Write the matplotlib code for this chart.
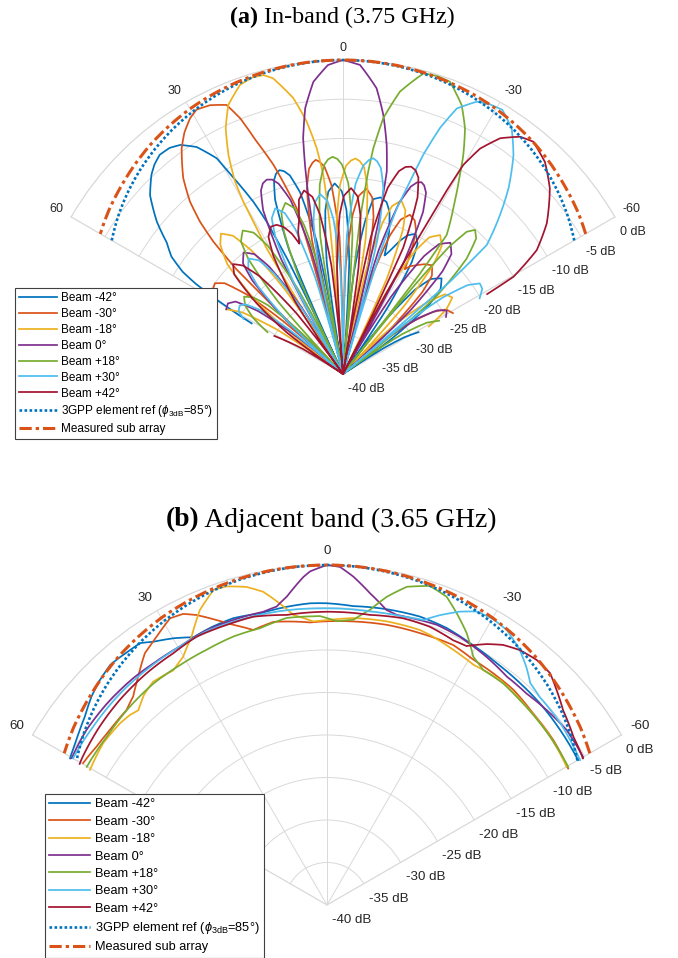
import numpy as np
import matplotlib
matplotlib.use("Agg")
import matplotlib.pyplot as plt
from matplotlib.transforms import ScaledTranslation

plt.rcParams['font.family'] = ['Liberation Sans', 'DejaVu Sans']
plt.rcParams['mathtext.fontset'] = 'custom'
plt.rcParams['mathtext.rm'] = 'Liberation Sans'
plt.rcParams['mathtext.it'] = 'Liberation Sans:italic'

# ---------------- labels / ticks ----------------
beam_labels = ['Beam -42°', 'Beam -30°', 'Beam -18°', 'Beam 0°', 'Beam +18°', 'Beam +30°', 'Beam +42°']
ref_label = '3GPP element ref ($\\phi_{\\mathrm{3dB}}$=85°)'
sub_label = 'Measured sub array'
theta_ticks = [-60, -30, 0, 30, 60]
r_ticks = [-40, -35, -30, -25, -20, -15, -10, -5, 0]
title_a = ('(a)', ' In-band (3.75 GHz)')
title_b = ('(b)', ' Adjacent band (3.65 GHz)')

beam_colors = ['#0072BD', '#D95319', '#EDB120', '#7E2F8E', '#77AC30', '#4DBEEE', '#A2142F']
ref_color = '#0072BD'
sub_color = '#D95319'

# ---------------- reference curves (both panels) ----------------
ref_theta = [-60, -55, -50, -45, -40, -35, -30, -25, -20, -15, -10, -5, 0,
             5, 10, 15, 20, 25, 30, 35, 40, 45, 50, 55, 60]
ref_3gpp_db = [-5.98, -5.02, -4.15, -3.36, -2.66, -2.03, -1.49, -1.04, -0.66, -0.37, -0.17, -0.04, 0,
               -0.04, -0.17, -0.37, -0.66, -1.04, -1.49, -2.03, -2.66, -3.36, -4.15, -5.02, -5.98]
sub_array_db = [-4.3, -3.6, -3.0, -2.4, -1.85, -1.4, -1.0, -0.7, -0.45, -0.25, -0.1, -0.02, 0,
                -0.02, -0.1, -0.25, -0.45, -0.7, -1.0, -1.4, -1.85, -2.4, -3.0, -3.6, -4.3]

# ---------------- (a) in-band beams: (angle deg, level dB) ----------------
a_m42 = [(-61, -29), (-59, -31), (-57.5, -34), (-56.2, -40), (-54.1, -32.5), (-51.2, -25.9),
         (-48.9, -23.5), (-45.85, -22.5), (-42.8, -23.5), (-40.5, -25.9), (-37.6, -32.5), (-35.5, -40),
         (-33.9, -29.9), (-31.6, -23.3), (-29.8, -20.9), (-27.4, -19.9), (-25, -20.5), (-23.2, -21.5),
         (-21.5, -22.8), (-20.2, -23.6), (-19.3, -24), (-18, -21), (-16, -18.5), (-14.2, -17.4),
         (-12, -17), (-9.8, -17.4), (-8.2, -20.4), (-6.1, -27), (-4.65, -40), (-3.2, -25.7),
         (-1.2, -19.1), (0.4, -16.7), (2.5, -15.7), (4.6, -16.7), (6.2, -19.1), (8.3, -25.7),
         (9.7, -40), (11.2, -22.8), (13.3, -16.2), (15, -13.8), (16.2, -13.1), (17.3, -12.8),
         (18.5, -13.1), (19.6, -13.8), (21.3, -16.2), (23.5, -22.8), (25, -40), (25.8, -24),
         (26.6, -18.3), (27.5, -15.25), (28.9, -12), (30.35, -8.15), (32.8, -5.6), (35.4, -4.2),
         (37.5, -3.7), (39.9, -3.6), (42, -4.1), (43.9, -4.8), (47.2, -6.5), (50.7, -9.35),
         (53.3, -12), (55.6, -13.5), (57.5, -15.8), (58.5, -18), (59.4, -21), (60.3, -24), (61, -26.7)]

a_m30 = [(-61, -24), (-58, -24.5), (-55.5, -26), (-52.5, -29.5), (-50.4, -34), (-48.6, -40),
         (-46.7, -32.1), (-44.1, -25.5), (-42.1, -23.1), (-39.3, -22.1), (-36.5, -22.6), (-34, -23.3),
         (-32, -23.8), (-30.5, -24.5), (-29, -22), (-27, -19.5), (-25, -18.4), (-22.8, -18),
         (-20.5, -19), (-18.7, -21.4), (-16.1, -28), (-14.5, -40), (-13.05, -26.2), (-11, -19.6),
         (-9.4, -17.2), (-7.25, -16.2), (-5.1, -17.2), (-3.5, -19.6), (-1.45, -26.2), (0, -40),
         (1.45, -22.5), (3.5, -15.9), (5.1, -13.5), (6.3, -12.8), (7.25, -12.5), (8.2, -12.8),
         (9.4, -13.5), (11, -15.9), (13.05, -22.5), (14.5, -40), (15.0, -25), (15.6, -18.1),
         (16.9, -15.3), (18.4, -11.9), (20.4, -8.4), (21.9, -4.9), (23.4, -2.65), (26.3, -1.8),
         (29, -1.5), (30.9, -2.05), (33.3, -3.2), (35.55, -4.65), (39.2, -7.8), (41.6, -10.65),
         (43.2, -13.4), (44.4, -16.4), (45.5, -21), (46.5, -40), (48.5, -30), (50.5, -24),
         (52.5, -21), (54.7, -20), (57.5, -20.3), (61, -21.5)]

a_m18 = [(-61, -27.5), (-58, -24.5), (-55, -23), (-52, -23.5), (-49.5, -26), (-47, -30),
         (-45.2, -34), (-43.7, -40), (-41.95, -28.4), (-39.5, -21.8), (-37.6, -19.4), (-34.95, -18.4),
         (-32.3, -19.4), (-30.4, -21.8), (-27.95, -28.4), (-26.2, -40), (-24.7, -26.7), (-22.55, -20.1),
         (-20.9, -17.7), (-18.6, -16.7), (-16.3, -17.7), (-14.65, -20.1), (-12.5, -26.7), (-11, -40),
         (-9.5, -22.5), (-7.4, -15.9), (-5.8, -13.5), (-4.5, -12.8), (-3.3, -12.5), (-2.1, -12.8),
         (-0.8, -13.5), (0.9, -15.9), (3, -22.5), (4.5, -40), (5.0, -22), (5.3, -17.5),
         (5.65, -14.5), (6.65, -11), (8.2, -7.5), (10.2, -4.3), (13.3, -1.3), (14.9, -0.6),
         (17, -0.5), (19.6, -0.9), (23.1, -2.75), (25.5, -5.3), (27.6, -8.5), (29.3, -11.9),
         (30.05, -14.6), (30.6, -18.4), (31.3, -21.3), (32.5, -40), (34.5, -27), (36.5, -20.5),
         (38.5, -17.5), (41, -16.3), (43.5, -17.3), (46.5, -19.7), (50.5, -26.3), (54, -40),
         (56, -30), (58.5, -25), (61, -23)]

a_0 = [(-61, -25), (-58.5, -24.5), (-56, -25.5), (-53.5, -28), (-51, -33), (-48.6, -40),
       (-46.7, -28.4), (-44.1, -21.8), (-42.1, -19.4), (-39.3, -18.4), (-36.5, -19.4), (-34.5, -21.8),
       (-31.9, -28.4), (-30, -40), (-28.45, -23.6), (-26.3, -17), (-24.6, -14.6), (-23.3, -13.85),
       (-22.25, -13.6), (-21.1, -13.85), (-19.9, -14.6), (-18.2, -17), (-16.05, -23.6), (-14.2, -40),
       (-13.1, -20), (-12.2, -13.6), (-10.8, -10.3), (-8.85, -6.6), (-6.7, -3.35), (-3.15, -0.57),
       (0, 0), (2.8, -0.6), (5.8, -2.6), (8.1, -5.8), (9.6, -9.55), (10.3, -12.9), (11, -16.8),
       (11.8, -22.5), (12.8, -40), (14.5, -23.4), (16.8, -16.8), (18.7, -14.4), (20, -13.65),
       (21.4, -13.4), (22.8, -13.65), (24.1, -14.4), (26, -16.8), (28.3, -23.4), (30, -40),
       (31.9, -30), (34.5, -23.4), (36.5, -21), (39.3, -20), (42.1, -21), (44.1, -23.4),
       (46.7, -30), (48.6, -40), (51, -32.5), (53.5, -26.5), (56, -23.5), (58.5, -22.8), (61, -23)]

a_p18 = [(-61, -26), (-58.5, -27.5), (-56, -31), (-53, -40), (-50.5, -25), (-47, -18.5),
         (-44.5, -15.8), (-42.5, -15.1), (-41, -16), (-39.8, -19), (-38.8, -26), (-38, -40),
         (-37.5, -24), (-36.7, -17.9), (-33.65, -14.65), (-31, -11.4), (-28.8, -8.2), (-26.4, -5.05),
         (-23.8, -2.55), (-20.1, -0.35), (-17.5, -0.2), (-15, -0.35), (-11.4, -3.3), (-8.95, -7.0),
         (-7.65, -11), (-7.1, -14), (-6.3, -20), (-5.5, -40), (-3.9, -22.3), (-1.6, -15.7),
         (0.3, -13.3), (1.5, -12.6), (2.75, -12.3), (4, -12.6), (5.2, -13.3), (7, -15.7),
         (9.4, -22.3), (11, -40), (12.5, -27), (14.65, -20.4), (16.3, -18), (18.6, -17),
         (20.9, -18), (22.55, -20.4), (24.7, -27), (26.2, -40), (27.95, -27.7), (30.4, -21.1),
         (32.3, -18.7), (34.95, -17.7), (37.6, -18.7), (39.5, -21.1), (41.95, -27.7), (43.7, -40),
         (45.5, -32), (47.5, -27), (49.5, -25), (52, -24), (55, -24.8), (58, -26.5), (61, -29)]

a_p30 = [(-61, -20.1), (-58.5, -19.2), (-56.5, -19.1), (-54.5, -20.5), (-52.5, -24), (-51, -30),
         (-50, -40), (-49.2, -22), (-48.1, -15.4), (-44.6, -11.5), (-41.7, -8.3), (-37.9, -4.65),
         (-34.5, -2.05), (-31.1, -0.7), (-28.5, -0.9), (-26.15, -1.35), (-23.2, -3.2), (-21.5, -6.35),
         (-20.1, -10.3), (-19.2, -14.05), (-18, -17.8), (-17, -24), (-16, -40), (-14.4, -22.3),
         (-12.2, -15.7), (-10.4, -13.3), (-9.1, -12.55), (-8, -12.25), (-6.9, -12.55), (-5.6, -13.3),
         (-3.8, -15.7), (-1.6, -22.3), (0, -40), (1.45, -26.9), (3.5, -20.3), (5.1, -17.9),
         (7.25, -16.9), (9.4, -17.9), (11, -20.3), (13.05, -26.9), (14.5, -40), (16.05, -27.2),
         (18.2, -20.6), (19.9, -18.2), (22.25, -17.2), (24.6, -18.2), (26.3, -20.6), (28.45, -27.2),
         (30, -40), (31.9, -31), (34.5, -24.4), (36.5, -22), (39.3, -21), (42.1, -22), (44.1, -24.4),
         (46.7, -31), (48.6, -40), (50.5, -31), (52.5, -26.5), (54.5, -24.7), (56.5, -24.2),
         (59, -24.5), (61, -25.5)]

a_p42 = [(-61, -19), (-60.3, -15), (-57.4, -10.7), (-53.5, -7.7), (-48.1, -4.6), (-43.6, -2.7),
         (-39.3, -1.75), (-36.7, -2.3), (-33.7, -3.9), (-31.3, -6.4), (-29.9, -9.3), (-29.5, -12.9),
         (-29.3, -16.3), (-29.0, -20.1), (-28.2, -28), (-27.3, -40), (-25.5, -22.2), (-22.9, -15.6),
         (-21, -13.2), (-19.6, -12.45), (-18.2, -12.2), (-16.8, -12.45), (-15.4, -13.2), (-13.5, -15.6),
         (-11.5, -22.2), (-9.7, -40), (-8.3, -26.3), (-6.3, -19.7), (-4.7, -17.3), (-2.5, -16.3),
         (-0.3, -17.3), (1.2, -19.7), (3.2, -26.3), (4.65, -40), (6.1, -26.1), (8.2, -19.5),
         (9.8, -17.1), (12, -16.1), (14.2, -17.1), (15.8, -19.5), (17.5, -21), (18.5, -22.5),
         (20, -21), (22, -19.8), (24, -19.2), (26, -19.1), (28.5, -20.1), (30.5, -22.5), (33.5, -29),
         (35.5, -40), (37.5, -30.2), (40.5, -23.6), (42.7, -21.2), (45, -20.2), (47.5, -21.2),
         (50.7, -25.8), (53.5, -31), (56.2, -40), (58, -34), (61, -30)]

# ---------------- (b) adjacent-band beams ----------------
b_m42_theta = [-60, -53.1, -46.6, -41, -35.1, -28.7, -23.4, -17.9, -11.4, -5, 0, 3.2, 7.7, 12.9,
               18.1, 22.5, 26.5, 29.9, 33.4, 35.5, 37.7, 39.8, 42.1, 45.3, 48.5, 52.1, 56.6, 60.3]
b_m42_db = [-5.9, -5.7, -5.5, -5.4, -5.25, -4.9, -4.5, -4.35, -4.5, -4.7, -4.5, -4.45, -4.6, -4.8,
            -4.5, -4.6, -4.8, -3.8, -2.9, -2.15, -2.1, -2.0, -1.95, -2.4, -3.0, -3.9, -4.7, -5.2]

b_m30_theta = [-60.5, -53.9, -47.1, -40.9, -35.7, -30.8, -25.9, -18.9, -12, -5.3, 1.4, 3.4, 7,
               10.7, 15, 18.5, 21.2, 24.2, 26.3, 28.7, 32.4, 35.9, 39.6, 42.9, 45.8, 51.1, 55.5, 59.8]
b_m30_db = [-7.4, -7.05, -6.9, -6.5, -6.45, -6.4, -6.0, -6.2, -6.3, -6.5, -6.65, -6.7, -6.4,
            -6.1, -6.5, -5.25, -4.05, -2.6, -1.8, -1.55, -2.6, -3.45, -5.15, -6.5, -7.1, -7.2, -7.1, -6.8]

b_m18_theta = [-60, -53, -45.2, -37.6, -31.4, -26.3, -20.9, -18.7, -11.9, -5.2, 0, 2.8, 6.6, 8.9,
               11.5, 14.2, 17.5, 19.8, 23.3, 26.8, 30.1, 33.2, 37.9, 41, 44.1, 46, 48.7, 54.1, 60.3]
b_m18_db = [-7.45, -7.1, -6.9, -6.6, -6.9, -6.5, -6.0, -5.85, -5.9, -6.1, -6.5, -6.6, -5.65, -4.1,
            -2.4, -1.4, -0.7, -0.6, -2.2, -4.65, -6.25, -7.0, -6.7, -7.2, -8.1, -7.8, -7.6, -7.5, -7.9]

b_0_theta = [-60, -53.9, -48.4, -43.3, -38.2, -32.7, -26.4, -21.4, -16.8, -13.5, -11.4, -7.9, -4.6,
             -2.2, 0, 2.9, 4.1, 7.4, 9.6, 12.3, 18.2, 23.6, 29.6, 35.7, 40.5, 47.5, 53.9, 60.1]
b_0_db = [-5.2, -5.1, -5.45, -5.8, -5.8, -5.3, -4.8, -4.6, -4.8, -4.9, -4.6, -3.0, -1.25,
          -0.2, 0, -0.7, -1.3, -3.4, -4.4, -4.7, -4.7, -4.7, -5.0, -5.0, -4.9, -4.9, -5.0, -5.35]

b_p18_theta = [-60.2, -49.5, -43.3, -38.5, -33.6, -30.5, -27.2, -24, -21.2, -17.9, -14.1, -11, -8.3,
               -5.3, -2, 1.4, 2.7, 8, 13.6, 19.2, 25.3, 31.5, 38.1, 44.8, 52.6, 60.1]
b_p18_db = [-7.3, -7.05, -6.9, -6.7, -6.8, -6.1, -4.05, -2.45, -1.1, -0.56, -1.4, -3.05, -4.9,
            -6.3, -6.6, -6.0, -6.0, -5.9, -6.5, -6.55, -6.8, -6.9, -6.9, -7.1, -7.4, -7.4]

b_p30_theta = [-60.2, -52.1, -45.6, -42.5, -40, -37.1, -33.2, -30, -27, -24.4, -21.3, -18.7, -14.8,
               -8.3, 1.4, 7.8, 18.3, 23.6, 29.6, 35.9, 44.4, 52.7, 60]
b_p30_db = [-5.7, -5.2, -5.0, -4.6, -3.5, -2.4, -1.35, -1.1, -1.25, -2.1, -3.4, -4.6, -4.9,
            -5.1, -5.1, -5.0, -4.9, -4.8, -5.0, -5.1, -5.2, -5.4, -5.5]

b_p42_theta = [-60.2, -55.7, -50.5, -46.9, -43.9, -40.6, -37.1, -34.1, -31.5, -28.3, -25.5, -20.3,
               -14.9, -8.4, 0, 7.9, 14.3, 19.7, 25.9, 31.4, 37.9, 45.3, 51.9, 59.1, 60.3]
b_p42_db = [-5.3, -4.9, -4.0, -3.0, -2.15, -2.05, -2.4, -3.05, -4.0, -5.4, -5.5, -5.1,
            -5.1, -5.5, -5.5, -5.55, -5.0, -5.0, -4.9, -5.3, -5.45, -5.7, -6.0, -6.4, -6.5]


def unzip(pairs):
    return [p[0] for p in pairs], [p[1] for p in pairs]


panel_a = [unzip(a_m42), unzip(a_m30), unzip(a_m18), unzip(a_0), unzip(a_p18),
           unzip(a_p30), unzip(a_p42)]
panel_b = [(b_m42_theta, b_m42_db), (b_m30_theta, b_m30_db), (b_m18_theta, b_m18_db),
           (b_0_theta, b_0_db), (b_p18_theta, b_p18_db), (b_p30_theta, b_p30_db),
           (b_p42_theta, b_p42_db)]

# ---------------- drawing ----------------
W, H = 678, 958
fig = plt.figure(figsize=(W / 100, H / 100), dpi=100)
TXT = '#262626'
GRID = '#d9d9d9'
SIN60 = np.sin(np.deg2rad(60))


def square_rect(cx, cy, R):
    # matplotlib pads the +/-60 deg wedge to a square box of side 2*R*sin60
    side = 2 * SIN60 * R
    pad = (side - R) / 2
    top_px = cy - R - pad
    return [(cx - side / 2) / W, 1 - (top_px + side) / H, side / W, side / H]


def polar_panel(rect, beams, fs_tick, fs_leg, leg_anchor, lab_off, lab_up, lspace):
    ax = fig.add_axes(rect, projection='polar')
    ax.set_theta_zero_location('N')
    ax.set_theta_direction(1)
    ax.set_thetamin(-60)
    ax.set_thetamax(60)
    ax.set_rlim(-40, 0)
    ax.set_xticks(np.deg2rad(theta_ticks))
    ax.set_xticklabels([])
    ax.set_rticks(r_ticks[1:])
    ax.set_yticklabels([])
    ax.grid(True, color=GRID, lw=0.7)
    for s in ax.spines.values():
        s.set_color(GRID)
        s.set_linewidth(0.8)
    ax.tick_params(length=0)

    handles = []
    for (th, db), col in zip(beams, beam_colors):
        ln, = ax.plot(np.deg2rad(th), np.clip(db, -40, 0), color=col, lw=1.25,
                      clip_on=False, zorder=3)
        ln.get_path()._interpolation_steps = 12
        handles.append(ln)
    l1, = ax.plot(np.deg2rad(ref_theta), ref_3gpp_db, color=ref_color, lw=1.9,
                  ls=(0, (1, 0.9)), clip_on=False, zorder=4)
    l1.get_path()._interpolation_steps = 12
    l2, = ax.plot(np.deg2rad(ref_theta), sub_array_db, color=sub_color, lw=2.2,
                  ls=(0, (4, 1.3, 1.1, 1.3)), clip_on=False, zorder=5)
    l2.get_path()._interpolation_steps = 12
    handles += [l1, l2]

    # theta tick labels (outside the outer arc)
    for t in theta_ticks:
        dx = -np.sin(np.deg2rad(t)) * lab_off
        dy = np.cos(np.deg2rad(t)) * lab_off + lab_up
        ha = 'center' if t == 0 else ('right' if t > 0 else 'left')
        tr = ax.transData + ScaledTranslation(dx / 100, dy / 100, fig.dpi_scale_trans)
        ax.text(np.deg2rad(t), 0, f'{t}', transform=tr, ha=ha, va='center',
                fontsize=fs_tick, color=TXT)
    # radial tick labels along the -60 edge
    for r in r_ticks:
        tr = ax.transData + ScaledTranslation(5 / 100, -15 / 100, fig.dpi_scale_trans)
        ax.text(np.deg2rad(-60), r, f'{r} dB', transform=tr, ha='left', va='center',
                fontsize=fs_tick, color=TXT)

    leg = fig.legend(handles, beam_labels + [ref_label, sub_label], loc='upper left',
                     bbox_to_anchor=leg_anchor, bbox_transform=fig.transFigure,
                     borderaxespad=0, fontsize=fs_leg, handlelength=3.2, handletextpad=0.35,
                     labelspacing=lspace, borderpad=0.35, fancybox=False, framealpha=1,
                     edgecolor='#404040', facecolor='white')
    leg.get_frame().set_linewidth(0.8)
    for t in leg.get_texts():
        t.set_color('black')
    return ax


R_a, cx_a, cy_a = 314, 343, 374
R_b, cx_b, cy_b = 340, 327, 905

ax_a = polar_panel(square_rect(cx_a, cy_a, R_a), panel_a, 9.0, 8.5, (15 / W, 1 - 288 / H),
                   9, 3, 0.33)
ax_b = polar_panel(square_rect(cx_b, cy_b, R_b), panel_b, 9.6, 9.2, (45 / W, 1 - 794 / H),
                   10, 3.5, 0.42)

renderer = fig.canvas.get_renderer()


def draw_title(parts, xc_px, yc_px, fs):
    t1 = fig.text(0, 1 - yc_px / H, parts[0], fontsize=fs, fontweight='bold',
                  family='Liberation Serif', va='center', ha='left', color='black')
    t2 = fig.text(0, 1 - yc_px / H, parts[1], fontsize=fs,
                  family='Liberation Serif', va='center', ha='left', color='black')
    w1 = t1.get_window_extent(renderer).width
    w2 = t2.get_window_extent(renderer).width
    x0 = xc_px - (w1 + w2) / 2
    t1.set_x(x0 / W)
    t2.set_x((x0 + w1) / W)


draw_title(title_a, 342, 17, 17.3)
draw_title(title_b, 331, 520, 19.8)

fig.savefig('out.png', dpi=100)
